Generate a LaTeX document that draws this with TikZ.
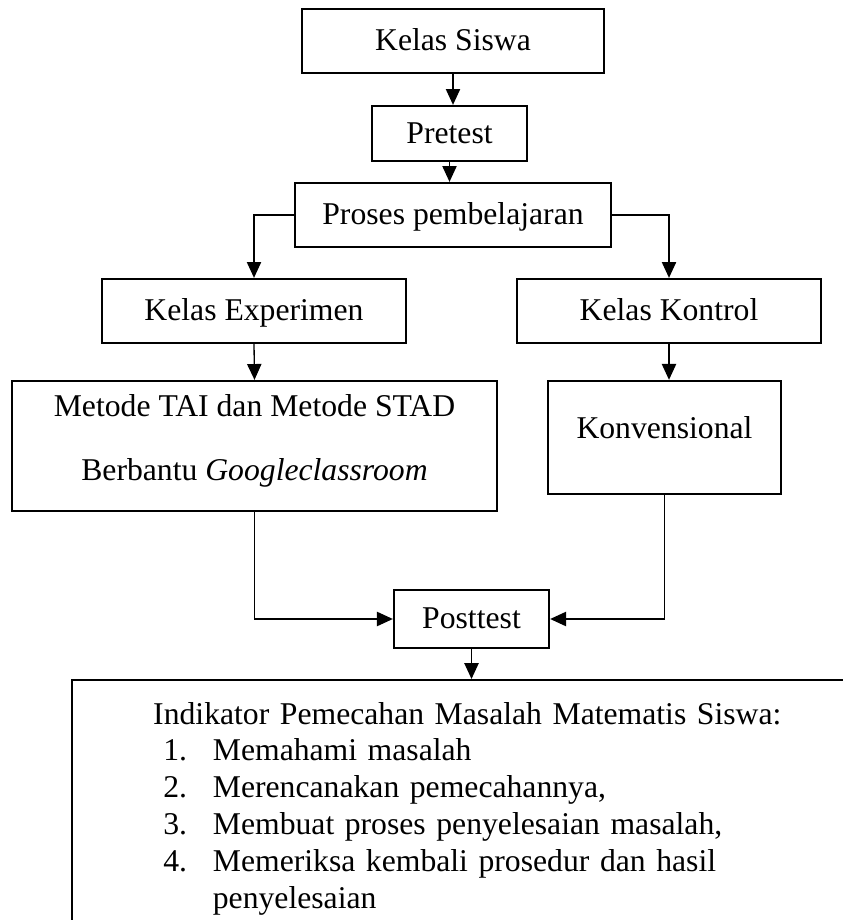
\documentclass[tikz,border=0pt]{standalone}
\usepackage{fontspec}
\setmainfont{Liberation Serif}
\usetikzlibrary{arrows.meta}
\begin{document}
\begin{tikzpicture}[x=0.3788pt,y=-0.3788pt,
  every node/.style={font=\fontsize{12}{14}\selectfont},
  kotak/.style={draw,line width=0.9pt,inner sep=0pt},
  satu/.style={kotak,text height=9pt,text depth=1.5pt},
  panah/.style={line width=0.5pt,-{Triangle[length=6pt,width=5.4pt]}}]
\clip (0,0) rectangle (843,920);
\node[satu,minimum width=114.4pt,minimum height=24.2pt] (siswa) at (453,41) {Kelas Siswa};
\node[satu,minimum width=58.7pt,minimum height=20.8pt] (pre) at (449.5,133.5) {Pretest};
\node[satu,minimum width=119.7pt,minimum height=24.2pt] (proses) at (453,215) {Proses pembelajaran};
\node[satu,minimum width=115.2pt,minimum height=24.2pt] (eksp) at (254,311) {Kelas Experimen};
\node[satu,minimum width=115.2pt,minimum height=24.2pt] (kontrol) at (669,311) {Kelas Kontrol};
\node[kotak,minimum width=183.7pt,minimum height=49.2pt,align=center,
  font=\fontsize{12}{24}\selectfont] (metode) at (254.5,446)
  {Metode TAI dan Metode STAD\\Berbantu \textit{Googleclassroom}\rule[-6.5pt]{0pt}{0pt}};
\node[kotak,minimum width=88.3pt,minimum height=42.8pt,text depth=7.6pt] (konv) at (664.5,437.5) {Konvensional};
\node[satu,minimum width=58.7pt,minimum height=22pt] (post) at (471.5,619) {Posttest};
\node[kotak,anchor=north west,inner xsep=30.7pt,inner ysep=6.8pt,text width=245pt,align=left] (indik) at (71,679)
  {\begin{tabular}{@{\hspace{3.8pt}}l@{\hspace{9.8pt}}l@{}}
   \multicolumn{2}{@{}l@{}}{Indikator Pemecahan Masalah Matematis Siswa:}\\
   1. & Memahami masalah\\
   2. & Merencanakan pemecahannya,\\
   3. & Membuat proses penyelesaian masalah,\\
   4. & Memeriksa kembali prosedur dan hasil\\
      & penyelesaian
   \end{tabular}};
\draw[panah] (siswa.south) -- (siswa.south |- pre.north);
\draw[panah] (pre.south) -- (pre.south |- proses.north);
\draw[panah] (proses.west) -| (eksp.north);
\draw[panah] (proses.east) -| (kontrol.north);
\draw[panah] (eksp.south) -- (metode.north);
\draw[panah] (kontrol.south) -- (kontrol.south |- konv.north);
\draw[panah] (metode.south) |- (post.west);
\draw[panah] (konv.south) |- (post.east);
\draw[panah] (post.south) -- (post.south |- indik.north);
\end{tikzpicture}
\end{document}
